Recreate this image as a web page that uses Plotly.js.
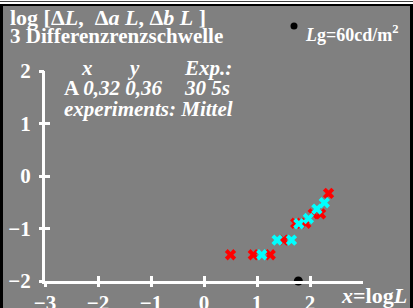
<!DOCTYPE html>
<html><head><meta charset="utf-8">
<script src="https://cdn.plot.ly/plotly-3.0.1.min.js"></script>
<style>
html,body{margin:0;padding:0;background:#fff;width:413px;height:308px;overflow:hidden;}
#topline{position:absolute;left:0;top:1px;width:413px;height:1px;background:#404040;}
#frame{position:absolute;left:0;top:4px;width:413px;height:304px;background:#000;}
#chart{position:absolute;left:3px;top:6px;width:407px;height:302px;}
</style></head>
<body>
<div id="topline"></div>
<div id="frame"></div>
<div id="chart"></div>
<script>
// Data
const xRed  = [0.50, 0.93, 1.25, 1.50, 1.73, 1.92, 2.06, 2.20, 2.35];
const yRed  = [-1.50, -1.50, -1.50, -1.22, -0.90, -0.90, -0.72, -0.72, -0.33];
const xCyan = [1.09, 1.38, 1.65, 1.79, 1.97, 2.13, 2.27];
const yCyan = [-1.50, -1.22, -1.22, -0.91, -0.81, -0.63, -0.51];
const xAdapt = [1.78];   // log(60)
const yAdapt = [-2];
const xTickVals = [-3, -2, -1, 0, 1, 2];
const xTickText = ['\u22123', '\u22122', '\u22121', '0', '1', '2'];
const yTickVals = [-2, -1, 0, 1, 2];
const yTickText = ['\u22122', '\u22121', '0', '1', '2'];

const FONT = 'Liberation Serif, Times New Roman, serif';
const GRAY = '#808080';
// plot area in page pixels: left 45, right 363, top 71, bottom 281
const PX = p => (p - 45) / 318;
const PY = p => (281 - p) / 210;

const traces = [
  {x: xRed, y: yRed, mode: 'markers', type: 'scatter',
   marker: {symbol: 'x', size: 10, color: '#ff0000', line: {width: 0}}, cliponaxis: false, hoverinfo: 'skip'},
  {x: xCyan, y: yCyan, mode: 'markers', type: 'scatter',
   marker: {symbol: 'x', size: 10, color: '#00ffff', line: {width: 0}}, cliponaxis: false, hoverinfo: 'skip'},
  {x: xAdapt, y: yAdapt, mode: 'markers', type: 'scatter',
   marker: {symbol: 'circle', size: 9, color: '#000000'}, cliponaxis: false, hoverinfo: 'skip'},
  {x: [null], y: [null], xaxis: 'x2', yaxis: 'y2', mode: 'markers', type: 'scatter', hoverinfo: 'skip'}
];

const ann = (text, x, y, xanchor, size, extra) => Object.assign({
  text: text, xref: 'paper', yref: 'paper', x: PX(x), y: PY(y),
  xanchor: xanchor, yanchor: 'middle', showarrow: false,
  font: {family: FONT, size: size, color: '#ffffff', weight: 'bold'}
}, extra || {});

const axisCommon = {
  showgrid: false, zeroline: false, showline: true, linecolor: '#ffffff', linewidth: 3,
  ticks: 'inside', ticklen: 5, tickwidth: 3, tickcolor: '#ffffff',
  tickfont: {family: FONT, size: 21, color: '#ffffff', weight: 'bold'}, fixedrange: true
};
const axisTicks2 = {
  ticks: 'outside', ticklen: 5, tickwidth: 3, tickcolor: '#ffffff',
  showticklabels: false, showline: false, showgrid: false, zeroline: false, fixedrange: true
};

const layout = {
  width: 407, height: 302,
  margin: {l: 42, r: 47, t: 65, b: 27, pad: 0},
  paper_bgcolor: GRAY, plot_bgcolor: GRAY,
  showlegend: false,
  xaxis: Object.assign({}, axisCommon, {range: [-3, 3], tickvals: xTickVals, ticktext: xTickText, ticklabelstandoff: 1}),
  yaxis: Object.assign({}, axisCommon, {range: [-2, 2], tickvals: yTickVals, ticktext: yTickText, ticklabelstandoff: 7}),
  xaxis2: Object.assign({}, axisTicks2, {overlaying: 'x', range: [-3, 3], tickvals: xTickVals}),
  yaxis2: Object.assign({}, axisTicks2, {overlaying: 'y', range: [-2, 2], tickvals: yTickVals}),
  annotations: [
    ann('log [\u0394<i>L</i>,  \u0394<i>a L</i>, \u0394<i>b L</i> ]', 8, 17, 'left', 22),
    ann('3 Differenzrenzschwelle', 8, 36, 'left', 21),
    ann('<i>x</i>', 87, 68, 'center', 21),
    ann('<i>y</i>', 133, 68, 'center', 21),
    ann('<i>Exp.:</i>', 182, 68, 'left', 21),
    ann('A <i>0,32 0,36</i>', 62, 88, 'left', 21),
    ann('<i>30 5s</i>', 182, 88, 'left', 21),
    ann('<i>experiments: Mittel</i>', 62, 109, 'left', 21),
    ann('<i>L</i>g=60cd/m<sup>2</sup>', 303, 34, 'left', 18),
    ann('<i>x</i>=log<i>L</i>', 409, 295, 'right', 22)
  ],
  shapes: [
    {type: 'circle', xref: 'paper', yref: 'paper', xsizemode: 'pixel', ysizemode: 'pixel',
     xanchor: PX(294), yanchor: PY(26), x0: -3.5, x1: 3.5, y0: -3.5, y1: 3.5,
     fillcolor: '#000000', line: {width: 0}}
  ]
};

Plotly.newPlot('chart', traces, layout, {staticPlot: true, displayModeBar: false});
</script>
</body></html>
